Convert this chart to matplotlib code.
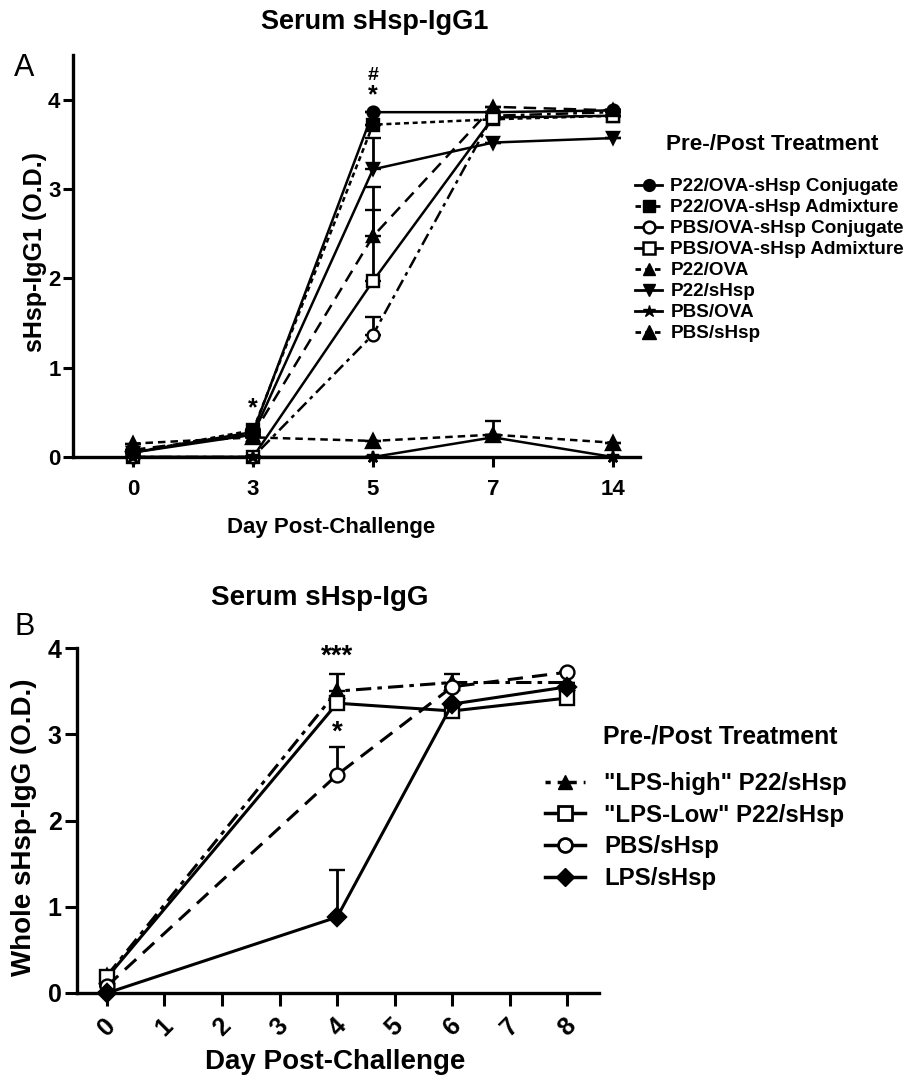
import numpy as np
import matplotlib
matplotlib.use("Agg")
import matplotlib.pyplot as plt
from matplotlib.lines import Line2D

plt.rcParams['font.family'] = ['Liberation Sans', 'DejaVu Sans']
plt.rcParams['font.weight'] = 'bold'
plt.rcParams['axes.labelweight'] = 'bold'

# panel A data (upper error only)
days_a = ["0", "3", "5", "7", "14"]
p22_conj = [0.05, 0.28, 3.86, 3.86, 3.88]
p22_admix = [0.05, 0.30, 3.72, 3.78, 3.82]
pbs_conj = [0.0, 0.0, 1.37, 3.82, 3.86]
pbs_admix = [0.0, 0.0, 1.97, 3.80, 3.82]
p22_ova = [0.08, 0.25, 2.47, 3.92, 3.88]
p22_shsp = [0.05, 0.25, 3.22, 3.52, 3.57]
pbs_ova = [0.0, 0.0, 0.0, 0.22, 0.0]
pbs_shsp = [0.15, 0.22, 0.18, 0.25, 0.16]
pbs_conj_err = [0, 0, 0.20, 0, 0]
pbs_admix_err = [0, 0, 1.05, 0, 0]
p22_ova_err = [0, 0, 0.30, 0, 0]
p22_shsp_err = [0, 0, 0.35, 0, 0]
pbs_ova_err = [0, 0, 0, 0.18, 0]

# panel B data
days_b = [0, 4, 6, 8]
lps_high = [0.20, 3.50, 3.60, 3.60]
lps_low = [0.18, 3.36, 3.27, 3.42]
pbs_b = [0.08, 2.53, 3.55, 3.72]
lps_b = [0.0, 0.88, 3.35, 3.55]
lps_high_err = [0, 0.20, 0.10, 0]
pbs_b_err = [0, 0.32, 0, 0]
lps_b_err = [0, 0.55, 0, 0]

W, H = 911, 1078
fig = plt.figure(figsize=(W / 100, H / 100), dpi=100)

def px(x0, y0, x1, y1):
    return [x0 / W, 1 - y1 / H, (x1 - x0) / W, (y1 - y0) / H]

def style_axes(ax, size, xpad, tlen):
    for s in ['top', 'right']:
        ax.spines[s].set_visible(False)
    for s in ['left', 'bottom']:
        ax.spines[s].set_linewidth(2.4)
    ax.tick_params(width=2.2, length=tlen, labelsize=size, pad=2)
    ax.tick_params(axis='x', pad=xpad)
    for t in ax.get_xticklabels() + ax.get_yticklabels():
        t.set_fontweight('bold')

def draw(ax, x, y, err, marker, ls, mfc='black', ms=8.5, lw=1.8):
    err = np.array(err, dtype=float)
    ax.errorbar(x, y, yerr=[np.zeros_like(err), err], color='black', lw=lw,
                ls=ls, marker=marker, ms=ms, mfc=mfc, mec='black', mew=1.7,
                capsize=6, capthick=2, elinewidth=2, clip_on=False)

# ---------- Panel A ----------
axA = fig.add_axes(px(73, 55, 640, 457))
xa = np.arange(len(days_a))
zero = [0] * len(days_a)
draw(axA, xa, p22_conj, zero, 'o', '-')
draw(axA, xa, p22_admix, zero, 's', (0, (2, 1.5)))
draw(axA, xa, pbs_conj, pbs_conj_err, 'o', (0, (5, 2, 1.5, 2)), mfc='white')
draw(axA, xa, pbs_admix, pbs_admix_err, 's', '-', mfc='white')
draw(axA, xa, p22_ova, p22_ova_err, '^', (0, (5, 3)))
draw(axA, xa, p22_shsp, p22_shsp_err, 'v', '-')
draw(axA, xa, pbs_ova, pbs_ova_err, '*', '-', ms=9)
draw(axA, xa, pbs_shsp, zero, '^', (0, (3, 2)), ms=10)
axA.set_xlim(-0.5, 4.225)
axA.set_ylim(0, 4.5)
axA.set_xticks(xa)
axA.set_xticklabels(days_a)
axA.set_yticks([0, 1, 2, 3, 4])
style_axes(axA, 16, 9, 7)
axA.set_xlabel("Day Post-Challenge", fontsize=16)
axA.xaxis.set_label_coords(0.455, (457 - 528) / 402)
axA.xaxis.label.set_va('center')
axA.set_ylabel("sHsp-IgG1 (O.D.)", fontsize=18)
axA.yaxis.set_label_coords((35 - 73) / 567, 0.51)
axA.yaxis.label.set_va('center')
axA.text(2, 4.05, "*", ha='center', va='center', fontsize=18)
axA.text(2, 4.27, "#", ha='center', va='center', fontsize=14)
axA.text(1, 0.55, "*", ha='center', va='center', fontsize=18)

fig.text(375 / W, 1 - 22 / H, "Serum sHsp-IgG1", ha='center', va='center', fontsize=19.5)
fig.text(24 / W, 1 - 68 / H, "A", ha='center', va='center', fontsize=22, fontweight='normal')

labels_a = ["P22/OVA-sHsp Conjugate", "P22/OVA-sHsp Admixture",
            "PBS/OVA-sHsp Conjugate", "PBS/OVA-sHsp Admixture",
            "P22/OVA", "P22/sHsp", "PBS/OVA", "PBS/sHsp"]
hA = [Line2D([], [], color='k', lw=2, ls='-', marker='o', ms=8.5),
      Line2D([], [], color='k', lw=2, ls=(0, (2, 1.5)), marker='s', ms=8.5),
      Line2D([], [], color='k', lw=2, ls='-', marker='o', ms=8.5, mfc='white', mew=1.8),
      Line2D([], [], color='k', lw=2, ls='-', marker='s', ms=8.5, mfc='white', mew=1.8),
      Line2D([], [], color='k', lw=2, ls=(0, (2, 1.5)), marker='^', ms=8.5),
      Line2D([], [], color='k', lw=2, ls='-', marker='v', ms=8.5),
      Line2D([], [], color='k', lw=2, ls='-', marker='*', ms=9),
      Line2D([], [], color='k', lw=2, ls=(0, (2, 1.5)), marker='^', ms=10)]
legA = fig.legend(hA, labels_a, loc='upper left', bbox_to_anchor=(635 / W, 1 - 178 / H),
                  frameon=False, fontsize=13.6, handlelength=1.45, handletextpad=0.42,
                  labelspacing=0.2, borderaxespad=0, borderpad=0)
fig.text(772 / W, 1 - 145 / H, "Pre-/Post Treatment", ha='center', va='center', fontsize=16.2)

# ---------- Panel B ----------
axB = fig.add_axes(px(77, 648, 599, 993))
zb = [0] * len(days_b)
draw(axB, days_b, lps_high, lps_high_err, '^', (0, (5, 2, 1.5, 2)), ms=10, lw=2.2)
draw(axB, days_b, lps_low, zb, 's', '-', mfc='white', ms=10, lw=2.2)
draw(axB, days_b, pbs_b, pbs_b_err, 'o', (0, (5, 3)), mfc='white', ms=10, lw=2.2)
draw(axB, days_b, lps_b, lps_b_err, 'D', '-', ms=9, lw=2.2)
axB.set_xlim(-0.52, 8.55)
axB.set_ylim(0, 4)
axB.set_xticks(range(9))
axB.set_yticks([0, 1, 2, 3, 4])
style_axes(axB, 18, 6, 9)
plt.setp(axB.get_xticklabels(), rotation=45, ha='center')
axB.set_xlabel("Day Post-Challenge", fontsize=20)
axB.xaxis.set_label_coords((335 - 77) / 522, (993 - 1062) / 345)
axB.xaxis.label.set_va('center')
axB.set_ylabel("Whole sHsp-IgG (O.D.)", fontsize=20)
axB.yaxis.set_label_coords((24 - 77) / 522, 0.48)
axB.yaxis.label.set_va('center')
axB.text(4, 3.9, "***", ha='center', va='center', fontsize=20)
axB.text(4, 3.02, "*", ha='center', va='center', fontsize=20)

fig.text(320 / W, 1 - 598 / H, "Serum sHsp-IgG", ha='center', va='center', fontsize=20)
fig.text(25 / W, 1 - 627 / H, "B", ha='center', va='center', fontsize=22, fontweight='normal')

labels_b = ['"LPS-high" P22/sHsp', '"LPS-Low" P22/sHsp', 'PBS/sHsp', 'LPS/sHsp']
hB = [Line2D([], [], color='k', lw=2.5, ls=(0, (1.5, 2, 4, 0)), marker='^', ms=10),
      Line2D([], [], color='k', lw=2.5, ls='-', marker='s', ms=10, mfc='white', mew=2),
      Line2D([], [], color='k', lw=2.5, ls='-', marker='o', ms=10, mfc='white', mew=2),
      Line2D([], [], color='k', lw=2.5, ls='-', marker='D', ms=9)]
legB = fig.legend(hB, labels_b, loc='upper left', bbox_to_anchor=(545 / W, 1 - 772 / H),
                  frameon=False, fontsize=17.3, handlelength=1.67, handletextpad=0.8,
                  labelspacing=0.36, borderaxespad=0, borderpad=0)
fig.text(603 / W, 1 - 737 / H, "Pre-/Post Treatment", ha='left', va='center', fontsize=17.9)

fig.savefig("out.png", dpi=100)
